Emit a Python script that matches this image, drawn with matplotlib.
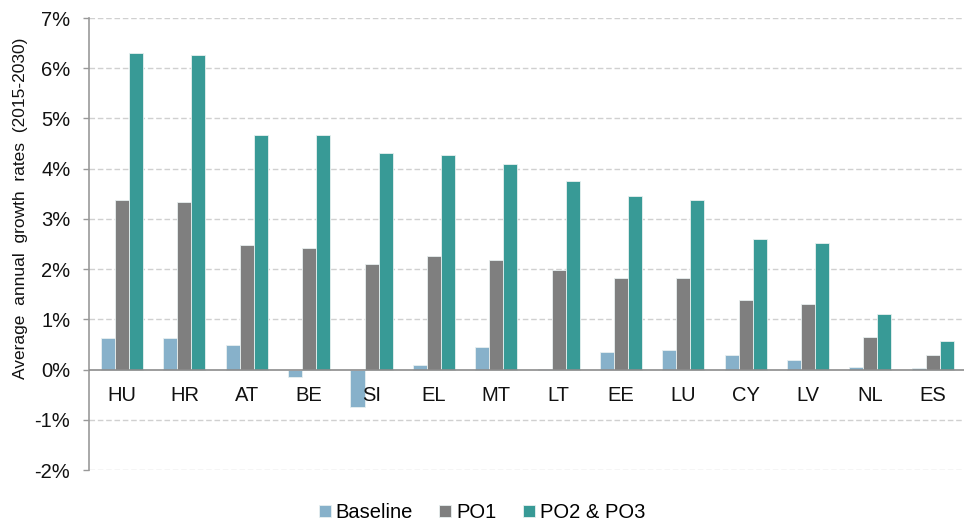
import matplotlib.pyplot as plt
import numpy as np
from matplotlib.ticker import FuncFormatter

plt.rcParams["font.family"] = ["Liberation Sans", "DejaVu Sans"]

countries = ["HU", "HR", "AT", "BE", "SI", "EL", "MT", "LT", "EE", "LU", "CY", "LV", "NL", "ES"]
baseline = [0.62, 0.62, 0.48, -0.15, -0.75, 0.09, 0.44, 0.01, 0.34, 0.39, 0.29, 0.20, 0.06, 0.03]
po1 = [3.37, 3.34, 2.49, 2.43, 2.10, 2.27, 2.19, 1.99, 1.83, 1.83, 1.38, 1.30, 0.64, 0.28]
po2_po3 = [6.31, 6.27, 4.67, 4.67, 4.31, 4.28, 4.09, 3.76, 3.46, 3.37, 2.60, 2.51, 1.11, 0.56]

series = [("Baseline", baseline, "#87b1ca"),
          ("PO1", po1, "#7f7f7f"),
          ("PO2 & PO3", po2_po3, "#389a96")]

fig = plt.figure(figsize=(9.64, 5.27), dpi=100)
ax = fig.add_axes([89 / 964, 57 / 527, 875 / 964, 452 / 527])

x = np.arange(len(countries))
w = 0.225
for k, (name, vals, col) in enumerate(series):
    ax.bar(x + (k - 1) * w, vals, w, color=col, edgecolor="#e8f0f0",
           linewidth=0.6, label=name, zorder=3)

ax.set_ylim(-2, 7)
ax.set_xlim(-0.53, 13.5)
ax.set_yticks(range(-2, 8))
ax.yaxis.set_major_formatter(FuncFormatter(lambda v, _: f"{v:.0f}%"))
ax.tick_params(axis="y", labelsize=14.5, length=4.5, width=1, color="#999999",
               pad=9, labelcolor="#111111")
ax.set_xticks([])

for v in [-2, -1, 1, 2, 3, 4, 5, 6, 7]:
    ax.axhline(v, color="#d0d0d0", lw=1, ls=(0, (4, 2)), zorder=1)
ax.axhline(0, color="#8c8c8c", lw=1.2, zorder=4)

for s in ["top", "right", "bottom"]:
    ax.spines[s].set_visible(False)
ax.spines["left"].set_color("#999999")
ax.spines["left"].set_linewidth(1.2)

for i, c in enumerate(countries):
    ax.text(i, -0.52, c, ha="center", va="center", fontsize=14.5, color="#111111")

ax.set_ylabel("Average  annual  growth  rates  (2015-2030)", fontsize=12.5, color="#111111")
ax.yaxis.set_label_coords(-0.07, 0.58)

fig.legend(loc="lower center", bbox_to_anchor=(0.5, -0.025), ncol=3, frameon=False,
           fontsize=14.5, handlelength=0.6, handleheight=0.6, handletextpad=0.25,
           columnspacing=1.3)

fig.savefig("out.png", dpi=100)
